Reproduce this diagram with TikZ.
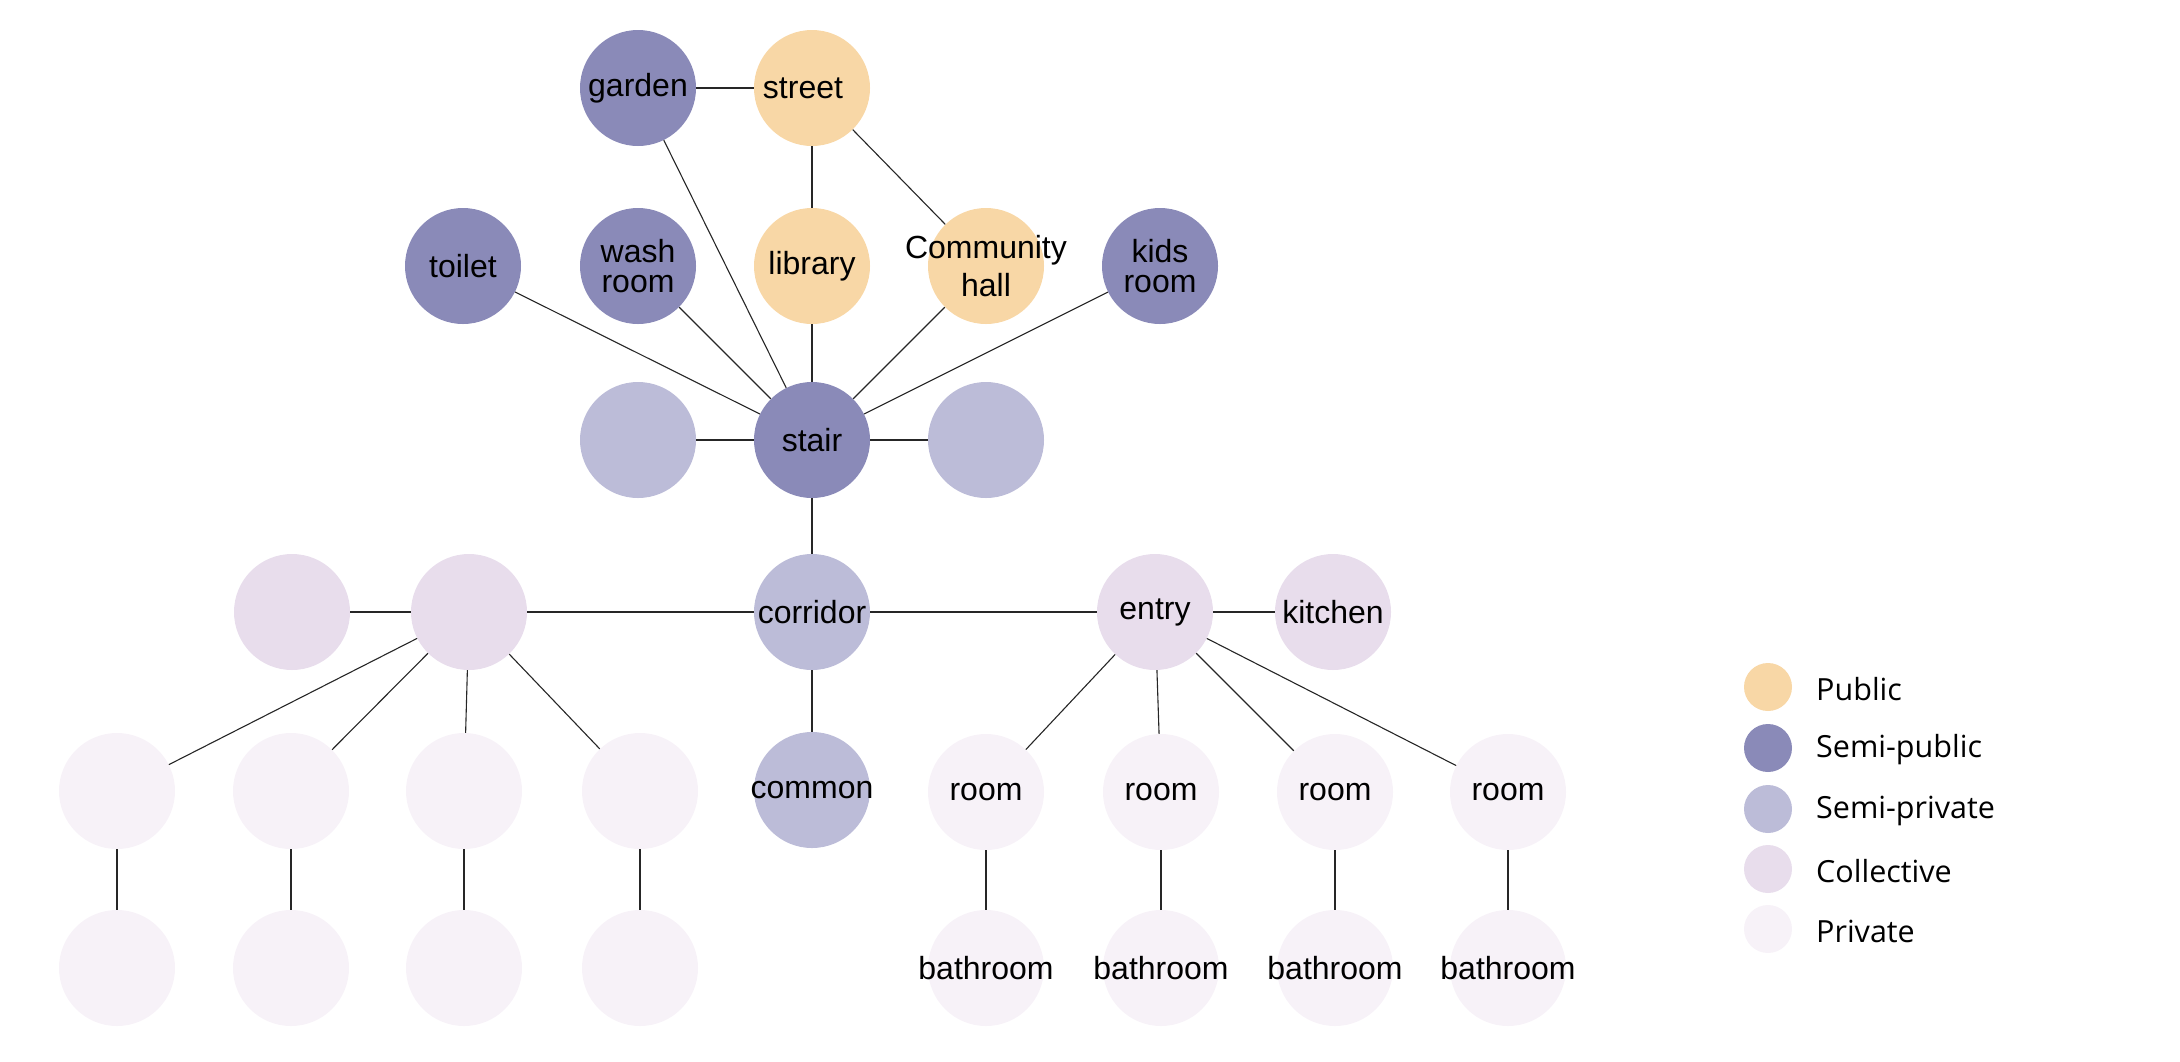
\documentclass[tikz,border=0pt]{standalone}
\usepackage{fontspec}
\setmainfont{Liberation Sans}
\newfontfamily\legfont{Open Sans}
\definecolor{cpub}{HTML}{F8D7A6}
\definecolor{csemipub}{HTML}{8A8AB8}
\definecolor{csemipriv}{HTML}{BCBCD8}
\definecolor{ccoll}{HTML}{E8DDEC}
\definecolor{cpriv}{HTML}{F7F2F8}
\begin{document}
\begin{tikzpicture}[x=1pt,y=-1pt,
  bub/.style={circle,minimum size=116pt,inner sep=0pt},
  txt/.style={inner sep=0pt,font=\fontsize{32}{34}\selectfont,align=center},
  tighttxt/.style={txt,font=\fontsize{32}{30}\selectfont},
  t/.style={label={[txt]center:#1}},
  tt/.style={label={[tighttxt]center:#1}},
  pub/.style={bub,fill=cpub},
  spub/.style={bub,fill=csemipub},
  spriv/.style={bub,fill=csemipriv},
  coll/.style={bub,fill=ccoll},
  priv/.style={bub,fill=cpriv},
  link/.style={draw=black!85,line width=1.1pt},
  legdot/.style={circle,minimum size=48pt,inner sep=0pt},
  legtxt/.style={anchor=west,font=\legfont\fontsize{30.5}{33}\selectfont,inner sep=0pt}]
\useasboundingbox (0,0) rectangle (2180,1061);
% nodes
\node[spub,t=garden] (garden) at (638,88) {};
\node[pub,t={\hspace*{-18pt}street}] (street) at (812,88) {};
\node[spub,t=toilet] (toilet) at (463,266) {};
\node[spub,tt={wash\\room}] (wash) at (638,266) {};
\node[pub,t=library] (library) at (812,266) {};
\node[pub,label={[txt,font=\fontsize{32}{38}\selectfont]center:{Community\\hall}}] (hall) at (986,266) {};
\node[spub,tt={kids\\room}] (kids) at (1160,266) {};
\node[spriv] (semiL) at (638,440) {};
\node[spub,t=stair] (stair) at (812,440) {};
\node[spriv] (semiR) at (986,440) {};
\node[coll] (colLL) at (292,612) {};
\node[coll] (colL) at (469,612) {};
\node[spriv,t=corridor] (corridor) at (812,612) {};
\node[coll,t=entry] (entry) at (1155,612) {};
\node[coll,t=kitchen] (kitchen) at (1333,612) {};
\node[priv] (pa1) at (117,791) {};
\node[priv] (pa2) at (291,791) {};
\node[priv] (pa3) at (464,791) {};
\node[priv] (pa4) at (640,791) {};
\node[spriv,t=common] (common) at (812,790) {};
\node[priv,t=room] (room1) at (986,792) {};
\node[priv,t=room] (room2) at (1161,792) {};
\node[priv,t=room] (room3) at (1335,792) {};
\node[priv,t=room] (room4) at (1508,792) {};
\node[priv] (pb1) at (117,968) {};
\node[priv] (pb2) at (291,968) {};
\node[priv] (pb3) at (464,968) {};
\node[priv] (pb4) at (640,968) {};
\node[priv,t=bathroom] (bath1) at (986,968) {};
\node[priv,t=bathroom] (bath2) at (1161,968) {};
\node[priv,t=bathroom] (bath3) at (1335,968) {};
\node[priv,t=bathroom] (bath4) at (1508,968) {};
% connectors
\draw[link] (garden) -- (street);
\draw[link] (garden) -- (stair);
\draw[link] (street) -- (library);
\draw[link] (street) -- (hall);
\foreach \n in {toilet,wash,library,hall,kids,semiL,semiR,corridor}
  \draw[link] (stair) -- (\n);
\draw[link] (colLL) -- (colL);
\draw[link] (colL) -- (corridor);
\draw[link] (corridor) -- (entry);
\draw[link] (entry) -- (kitchen);
\draw[link] (corridor) -- (common);
\foreach \i in {1,...,4} {
  \draw[link] (colL) -- (pa\i);
  \draw[link] (pa\i) -- (pb\i);
  \draw[link] (entry) -- (room\i);
  \draw[link] (room\i) -- (bath\i);
}
% legend
\node[legdot,fill=cpub] (l1) at (1768,687) {};
\node[legdot,fill=csemipub] (l2) at (1768,748) {};
\node[legdot,fill=csemipriv] (l3) at (1768,809) {};
\node[legdot,fill=ccoll] (l4) at (1768,869) {};
\node[legdot,fill=cpriv] (l5) at (1768,929) {};
\node[legtxt] (t1) at (1816,689) {Public};
\node[legtxt] (t2) at (1816,750) {Semi-public};
\node[legtxt] (t3) at (1816,811) {Semi-private};
\node[legtxt] (t4) at (1816,871) {Collective};
\node[legtxt] (t5) at (1816,931) {Private};
\end{tikzpicture}
\end{document}
